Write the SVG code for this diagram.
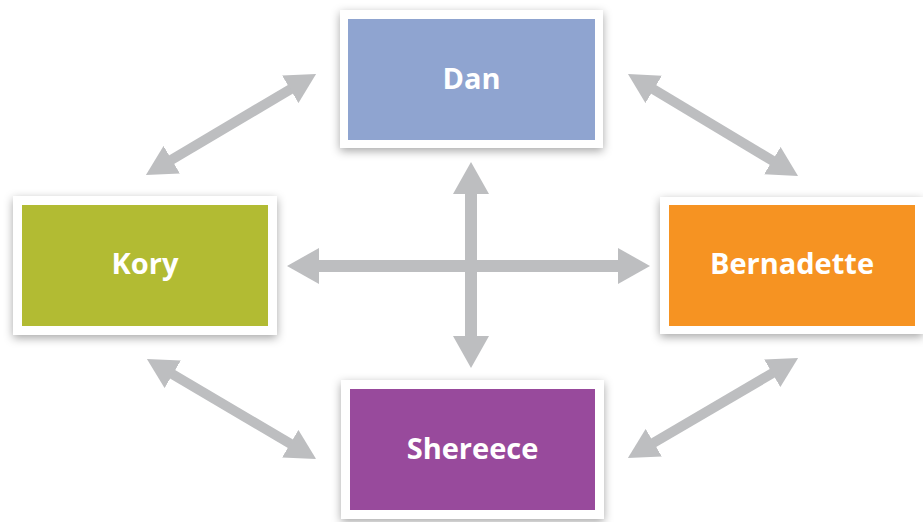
<svg xmlns="http://www.w3.org/2000/svg" width="923" height="522" viewBox="0 0 923 522">
<defs>
<filter id="sh" x="-20%" y="-30%" width="140%" height="160%">
<feDropShadow dx="0" dy="3" stdDeviation="5" flood-color="#000" flood-opacity="0.35"/>
</filter>
<marker id="ah" viewBox="0 0 32 36" refX="12" refY="18" markerWidth="32" markerHeight="36" markerUnits="userSpaceOnUse" orient="auto-start-reverse">
<path d="M0,0 L32,18 L0,36 z" fill="#BDBEC0"/>
</marker>
<marker id="ahs" viewBox="0 0 30 32" refX="12" refY="16" markerWidth="30" markerHeight="32" markerUnits="userSpaceOnUse" orient="auto-start-reverse">
<path d="M0,0 L30,16 L0,32 z" fill="#BDBEC0"/>
</marker>
</defs>
<style>
.frame{fill:#fff;filter:url(#sh)}
.lbl{font-family:"Open Sans","Noto Sans","DejaVu Sans",sans-serif;font-weight:700;font-size:29px;fill:#fff;text-anchor:middle}
.conn line{stroke:#BDBEC0;fill:none}
.main{stroke-width:12;marker-start:url(#ah);marker-end:url(#ah)}
.diag{stroke-width:10;marker-start:url(#ahs);marker-end:url(#ahs)}
</style>
<rect width="923" height="522" fill="#fff"/>
<g id="connectors" class="conn">
<line class="main" x1="471" y1="182" x2="471" y2="348"/>
<line class="main" x1="307" y1="266" x2="630" y2="266"/>
<line class="diag" x1="300.6" y1="83.2" x2="161.4" y2="165.8"/>
<line class="diag" x1="643.4" y1="83.2" x2="782.6" y2="166.8"/>
<line class="diag" x1="162.4" y1="368.2" x2="300.6" y2="449.8"/>
<line class="diag" x1="782.6" y1="367.2" x2="643.4" y2="448.8"/>
</g>
<g id="dan">
<rect class="frame" x="340" y="10" width="263" height="138"/>
<rect x="348" y="19" width="247" height="121" fill="#8FA4D0"/>
<text class="lbl" x="471.5" y="89">Dan</text>
</g>
<g id="kory">
<rect class="frame" x="13" y="196" width="264" height="139"/>
<rect x="22" y="205" width="246" height="121" fill="#B2BB33"/>
<text class="lbl" x="145" y="274">Kory</text>
</g>
<g id="bernadette">
<rect class="frame" x="660" y="197" width="263" height="137"/>
<rect x="669" y="205" width="246" height="121" fill="#F69322"/>
<text class="lbl" x="792" y="274">Bernadette</text>
</g>
<g id="shereece">
<rect class="frame" x="341" y="380" width="263" height="139"/>
<rect x="350" y="389" width="245" height="121" fill="#984A9C"/>
<text class="lbl" x="472.5" y="459">Shereece</text>
</g>
</svg>
